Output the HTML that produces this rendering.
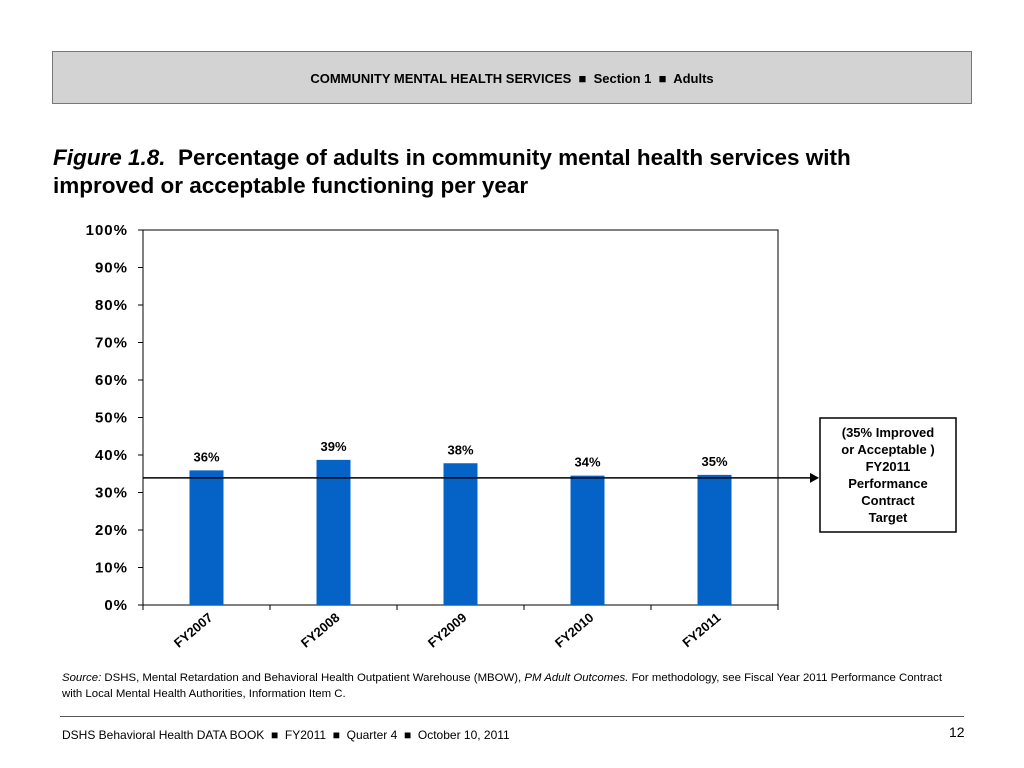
<!DOCTYPE html>
<html><head><meta charset="utf-8"><style>
body{margin:0;width:1024px;height:768px;background:#fff;font-family:"Liberation Sans",Arial,sans-serif;position:relative;overflow:hidden}
.hdr{position:absolute;left:52px;top:51px;width:920px;height:53px;background:#d3d3d3;border:1px solid #777;box-sizing:border-box;text-align:center;font-size:13px;font-weight:bold;line-height:53px;padding-top:0px}
.title{position:absolute;left:53px;top:144px;font-size:22.5px;font-weight:bold;line-height:28px;color:#000}
.src{position:absolute;left:62px;top:670px;font-size:11.4px;line-height:16px;width:900px}
.ftline{position:absolute;left:60px;top:716px;width:904px;height:1px;background:#555}
.ft{position:absolute;left:62px;top:728px;font-size:12px}
.pg{position:absolute;left:949px;top:724px;font-size:14px}
svg{position:absolute;left:0;top:0}
</style></head><body>
<div class="hdr">COMMUNITY MENTAL HEALTH SERVICES &nbsp;■&nbsp; Section 1 &nbsp;■&nbsp; Adults</div>
<div class="title"><i>Figure 1.8.</i>&nbsp; Percentage of adults in community mental health services with<br>improved or acceptable functioning per year</div>
<svg id="chart" width="1024" height="768"></svg>
<div class="src"><i>Source:</i> DSHS, Mental Retardation and Behavioral Health Outpatient Warehouse (MBOW), <i>PM Adult Outcomes.</i> For methodology, see Fiscal Year 2011 Performance Contract with Local Mental Health Authorities, Information Item C.</div>
<div class="ftline"></div>
<div class="ft">DSHS Behavioral Health DATA BOOK &nbsp;■&nbsp; FY2011 &nbsp;■&nbsp; Quarter 4 &nbsp;■&nbsp; October 10, 2011</div>
<div class="pg">12</div>
<script>
const categories=["FY2007","FY2008","FY2009","FY2010","FY2011"];
const values=[35.9,38.7,37.8,34.5,34.7];
const valueLabels=["36%","39%","38%","34%","35%"];
const yTicks=[0,10,20,30,40,50,60,70,80,90,100];
const target=[33.9];
const NS="http://www.w3.org/2000/svg";
const svg=document.getElementById('chart');
const L=143,R=778,T=230,B=605;
const y=v=>B-(v/100)*(B-T);
const cw=(R-L)/categories.length;
const x=i=>L+cw*(i+0.5);
function mk(t,a,txt){const e=document.createElementNS(NS,t);for(const k in a)e.setAttribute(k,a[k]);if(txt!=null)e.textContent=txt;svg.appendChild(e);return e;}
let e=mk('rect',{x:L,y:T,width:R-L,height:B-T,fill:'none',stroke:'#000','stroke-width':1});


yTicks.forEach(v=>{
 let t=mk('line',{x1:L-5,x2:L,y1:y(v),y2:y(v),stroke:'#000'});
 
 
 let l=mk('text',{x:L-15,y:y(v)+5,'text-anchor':'end','font-size':15,'font-weight':'bold','letter-spacing':1},v+'%');
 
 
});
for(let i=0;i<=categories.length;i++){
 let t=mk('line',{x1:L+cw*i,x2:L+cw*i,y1:B,y2:B+5,stroke:'#000'});
 
 
}
categories.forEach((c,i)=>{
 let b=mk('rect',{x:x(i)-17,y:y(values[i]),width:34,height:B-y(values[i]),fill:'#0563c8'});
 
 
 let v=mk('text',{x:x(i),y:y(values[i])-9,'text-anchor':'middle','font-size':13,'font-weight':'bold'},valueLabels[i]);
 
 
 let cx=x(i)+7,cy=B+14;
 let l=mk('text',{x:cx,y:cy,'text-anchor':'end','font-size':13,'font-weight':'bold',transform:`rotate(-40 ${cx} ${cy})`},c);
 
 
});
let ty=y(target[0]);
let tl=mk('line',{x1:L,x2:812,y1:ty,y2:ty,stroke:'#000','stroke-width':1.5});


let ar=mk('polygon',{points:`810,${ty-5} 819,${ty} 810,${ty+5}`,fill:'#000'});


let bx=mk('rect',{x:820,y:418,width:136,height:114,fill:'#fff',stroke:'#000','stroke-width':1.5});


["(35% Improved","or Acceptable )","FY2011","Performance","Contract","Target"].forEach((s,k)=>{
 let t=mk('text',{x:888,y:437+k*17,'text-anchor':'middle','font-size':13,'font-weight':'bold'},s);
 
 
});
</script>
</body></html>
